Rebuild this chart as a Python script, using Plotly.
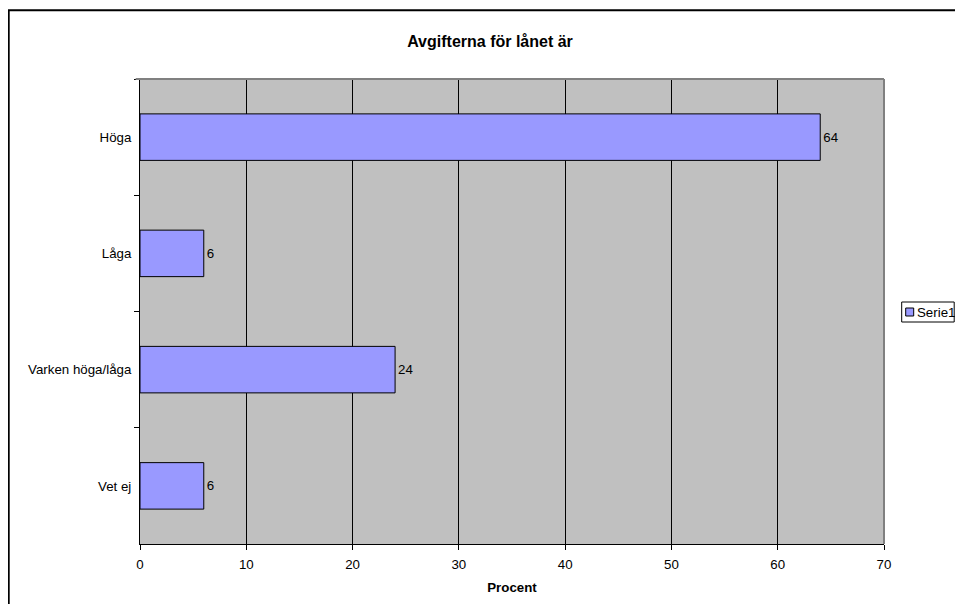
import plotly.graph_objects as go

categories = ["Höga", "Låga", "Varken höga/låga", "Vet ej"]
values = [64, 6, 24, 6]
series_name = "Serie1"
x_ticks = [0, 10, 20, 30, 40, 50, 60, 70]

FONT = "Liberation Sans, Arial, sans-serif"
W, H = 947, 596
L, T = 132.3, 71
PW, PH = 744, 465
R = W - L - PW
B = H - T - PH

def px(x):
    return (x - L) / PW

def py(y):
    return (H - B - y) / PH

fig = go.Figure()
fig.add_trace(go.Bar(
    y=categories, x=values, orientation="h", name=series_name,
    marker=dict(color="#9999FF", line=dict(color="black", width=1)),
    text=[str(v) for v in values], textposition="outside",
    textfont=dict(family=FONT, size=13.3, color="black"),
    cliponaxis=False, showlegend=False,
))

shapes = [
    # outer chart frame
    dict(type="rect", xref="paper", yref="paper", x0=px(1), y0=py(700), x1=px(1100), y1=py(2.3),
         line=dict(color="black", width=2), fillcolor="rgba(0,0,0,0)", layer="above"),
    # top and right plot-area borders
    dict(type="line", xref="paper", yref="paper", x0=px(128), x1=1, y0=1, y1=1,
         line=dict(color="#808080", width=2), layer="above"),
    dict(type="line", xref="paper", yref="paper", x0=1, x1=1, y0=0, y1=1,
         line=dict(color="#808080", width=2), layer="above"),
    # legend box
    dict(type="rect", xref="paper", yref="paper", x0=px(894), x1=px(946.5), y0=py(314), y1=py(294),
         line=dict(color="black", width=1), fillcolor="white", layer="above"),
    dict(type="rect", xref="paper", yref="paper", x0=px(898), x1=px(906), y0=py(308), y1=py(300),
         line=dict(color="black", width=1), fillcolor="#9999FF", layer="above"),
]

annotations = [
    dict(text=series_name, xref="paper", yref="paper", x=px(907), y=py(304.5),
         xanchor="left", yanchor="middle", showarrow=False,
         font=dict(family=FONT, size=13.3, color="black")),
]

fig.update_layout(
    width=W, height=H,
    margin=dict(l=L, r=R, t=T, b=B, pad=0),
    paper_bgcolor="white", plot_bgcolor="#C0C0C0",
    bargap=0.6,
    title=dict(text="<b>Avgifterna för lånet är</b>", x=482 / W, xref="container", xanchor="center",
               y=1 - 33.7 / H, yref="container", yanchor="middle",
               font=dict(family=FONT, size=16, color="black")),
    font=dict(family=FONT, size=13.3, color="black"),
    xaxis=dict(range=[0, 70], tickvals=x_ticks, ticktext=[str(t) for t in x_ticks],
               showgrid=True, gridcolor="black", gridwidth=1,
               showline=True, linecolor="black", linewidth=1,
               ticks="outside", ticklen=5, tickcolor="black",
               zeroline=False, ticklabelstandoff=3,
               title=dict(text="<b>Procent</b>", standoff=11,
                          font=dict(family=FONT, size=13.3, color="black")),
               tickfont=dict(family=FONT, size=13.3, color="black")),
    yaxis=dict(categoryorder="array", categoryarray=categories, autorange="reversed",
               showgrid=False, showline=True, linecolor="black", linewidth=1,
               ticks="outside", ticklen=5, tickcolor="black", tickson="boundaries",
               ticklabelstandoff=5,
               tickfont=dict(family=FONT, size=13.3, color="black")),
    shapes=shapes, annotations=annotations,
    showlegend=False,
)

fig.write_html("out.html")
